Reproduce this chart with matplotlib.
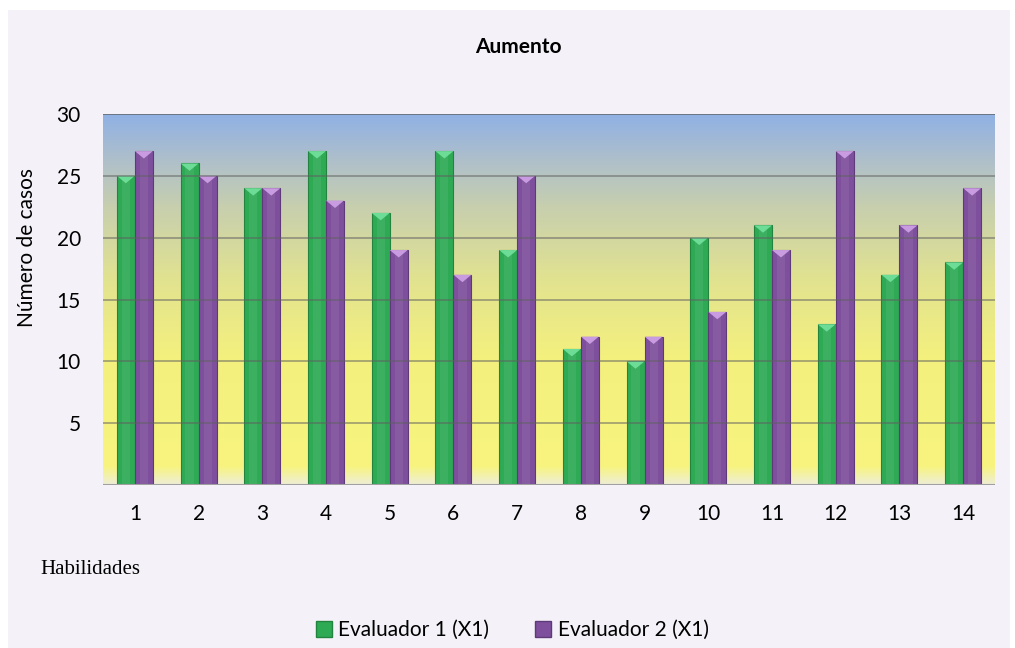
import numpy as np
import matplotlib.pyplot as plt
from matplotlib.colors import LinearSegmentedColormap
from matplotlib.patches import Rectangle, Polygon
from matplotlib.lines import Line2D

plt.rcParams['font.family'] = ['Lato', 'DejaVu Sans']

# Data
habilidades = [str(i) for i in range(1, 15)]
evaluador1 = [25, 26, 24, 27, 22, 27, 19, 11, 10, 20, 21, 13, 17, 18]
evaluador2 = [27, 25, 24, 23, 19, 17, 25, 12, 12, 14, 19, 27, 21, 24]

green = '#2eaa55'
green_edge = '#23843f'
green_top = '#6ddc96'
purple = '#7d4f9c'
purple_edge = '#5f3a78'
purple_top = '#c99be0'

fig = plt.figure(figsize=(10.15, 6.48), dpi=100, facecolor='white')
# lavender panel behind the chart
fig.patches.append(Rectangle((8/1015, 0), 1002/1015, 638/648, transform=fig.transFigure,
                             facecolor='#f4f2f8', edgecolor='none', zorder=-5))

ax = fig.add_axes([103/1015, 1 - 485/648, 892/1015, (485 - 114)/648])
ax.set_facecolor('none')

# vertical gradient fill of the plot area
grad = LinearSegmentedColormap.from_list('bg', [
    (0.0, '#eeeed6'), (0.05, '#f8f47e'), (0.35, '#f3f07f'),
    (0.55, '#e2e38f'), (0.75, '#c7cfae'), (0.88, '#aebfcb'), (1.0, '#90b1e4')])
ax.imshow(np.linspace(0, 1, 256).reshape(-1, 1), cmap=grad, origin='lower',
          extent=[0.5, 14.5, 0, 30], aspect='auto', zorder=0)

x = np.arange(1, 15)
w = 0.283
bevel = 0.6

for xi, v1, v2 in zip(x, evaluador1, evaluador2):
    for cx, v, c, ec, tc in [(xi - w/2, v1, green, green_edge, green_top),
                             (xi + w/2, v2, purple, purple_edge, purple_top)]:
        ax.bar(cx, v, w, color=c, edgecolor=ec, linewidth=0.8, zorder=2)
        # lighter strip down the middle of each bar
        ax.bar(cx, v, w * 0.45, color='white', alpha=0.07, linewidth=0, zorder=2)
        ax.add_patch(Polygon([(cx - w/2, v), (cx + w/2, v), (cx, v - bevel)],
                             closed=True, facecolor=tc, edgecolor='none', zorder=3))

# grid lines drawn over the bars
for yv in range(5, 31, 5):
    ax.axhline(yv, color='#606060', linewidth=1.3, alpha=0.55 if yv < 30 else 0.8, zorder=4)
ax.axhline(0, color='#a0a0a0', linewidth=1.5, zorder=4)

ax.set_xlim(0.5, 14.5)
ax.set_ylim(0, 30)
ax.set_xticks(x)
ax.set_xticklabels(habilidades)
ax.set_yticks(range(5, 31, 5))
ax.tick_params(axis='both', length=0, labelsize=15)
ax.tick_params(axis='x', pad=14)
ax.tick_params(axis='y', pad=16)
for s in ax.spines.values():
    s.set_visible(False)

fig.text(27/1015, 1 - 248/648, 'Número de casos', rotation=90, ha='center', va='center',
         fontsize=15)
fig.text(518/1015, 1 - 47/648, 'Aumento', ha='center', va='center',
         fontsize=15, fontweight='bold')
fig.text(40/1015, 1 - 570/648, 'Habilidades', ha='left', va='center',
         fontsize=15, family='Liberation Serif')

handles = [Line2D([], [], marker='s', linestyle='none', markersize=11,
                  markerfacecolor=green, markeredgecolor=green_edge),
           Line2D([], [], marker='s', linestyle='none', markersize=11,
                  markerfacecolor=purple, markeredgecolor=purple_edge)]
fig.legend(handles, ['Evaluador 1 (X1)', 'Evaluador 2 (X1)'], loc='center',
           bbox_to_anchor=(510/1015, 1 - 630/648), ncol=2, frameon=False,
           fontsize=15, handletextpad=0.1, columnspacing=2.0, handlelength=1.2)

fig.savefig('out.png', dpi=100, facecolor='white')
